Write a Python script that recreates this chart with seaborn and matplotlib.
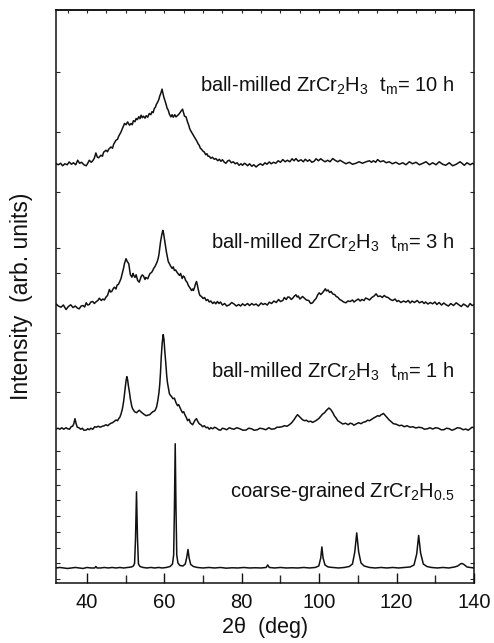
import numpy as np
import pandas as pd
import matplotlib
matplotlib.use("Agg")
import matplotlib.pyplot as plt
import seaborn as sns

# ---------------- data ((2theta, intensity in arb. units)) ----------------
coarse_pts = [(32, 15), (33, 15.5), (34, 15), (35, 14.5), (36, 15), (37, 15.5), (38, 15), (39, 14.5),
              (40, 15.5), (41, 15), (42, 15), (42.3, 16.5), (42.6, 15), (43.5, 15), (44.5, 15.5), (45.5, 15),
              (46.5, 15.5), (47.5, 15), (48.5, 15.5), (49.5, 15), (50.5, 15.5), (51.5, 16), (52.0, 17),
              (52.3, 19.5), (52.55, 45), (52.8, 91), (53.05, 45), (53.3, 19), (53.7, 16.5), (54.5, 15.5),
              (55.5, 15), (56.5, 15.5), (57.5, 15), (58.5, 15.5), (59.5, 15), (60.5, 15.5), (61.5, 16.5),
              (62.1, 19), (62.4, 28), (62.6, 75), (62.8, 139), (63.0, 75), (63.2, 28), (63.5, 20), (64.0, 17.5),
              (64.8, 17), (65.4, 19), (65.8, 26), (66.1, 33.5), (66.4, 25), (66.8, 18.5), (67.5, 16.5),
              (68.5, 15.5), (70, 15), (71.5, 15.5), (73, 15), (74.5, 15.5), (76, 14.8), (77.5, 15.2),
              (79, 15), (80.5, 15.5), (82, 15), (83.5, 15.2), (85, 15), (86.3, 15.5), (86.7, 18), (87.1, 15.5),
              (88.5, 15), (90, 15.5), (91.5, 15), (93, 15.2), (94.5, 15), (96, 15.5), (97.5, 15), (99, 15.5),
              (99.9, 17), (100.4, 25), (100.7, 36), (101.0, 25), (101.5, 18), (102.3, 16), (103.5, 15.5),
              (105, 15), (106.5, 15.5), (107.8, 16.5), (108.6, 19), (109.2, 31), (109.7, 50), (110.2, 31),
              (110.8, 20), (111.6, 17), (113, 15.5), (114.5, 15), (116, 15.5), (117.5, 15), (119, 15.5),
              (120.5, 15), (122, 15.5), (123.5, 16), (124.5, 18), (125.2, 29), (125.7, 47.5), (126.2, 30),
              (126.9, 19), (127.8, 16.5), (129, 15.5), (130.5, 15), (132, 15.5), (133.5, 15), (135, 16),
              (135.8, 17), (136.5, 19), (136.9, 19.5), (137.4, 18.5), (138.2, 16), (139, 15.5), (140, 15)]

h1_pts = [(32, 153.7), (32.5, 154.5), (33.0, 153.5), (33.5, 155), (34.0, 153.5), (34.6, 155), (35.0, 154),
          (35.5, 153.5), (35.9, 156), (36.3, 156.5), (36.6, 159), (36.9, 164), (37.2, 159), (37.5, 155.5),
          (37.9, 155), (38.4, 153.5), (38.8, 154.5), (39.2, 152.5), (39.8, 152.7), (40.2, 154), (40.6, 153),
          (41.0, 154.5), (41.5, 153.5), (42.0, 156), (42.4, 155.5), (42.9, 156.5), (43.4, 155.5), (44.0, 156.5),
          (44.5, 157), (44.9, 158), (45.4, 157), (45.8, 158.5), (46.2, 159.5), (46.6, 160), (47.1, 161.5),
          (47.5, 162.7), (47.9, 162), (48.2, 164), (48.5, 165.5), (48.8, 168.7), (49.1, 173), (49.3, 177),
          (49.5, 182), (49.7, 189), (49.9, 196), (50.1, 202), (50.3, 206), (50.5, 203), (50.7, 197),
          (51.0, 190), (51.2, 184), (51.4, 180), (51.6, 176), (51.8, 174), (52.3, 171), (52.8, 170),
          (53.2, 171.5), (53.5, 172.5), (53.9, 171), (54.2, 170), (54.7, 168.5), (55.3, 167), (55.7, 167.5),
          (56.2, 168), (56.6, 169.5), (57.0, 171), (57.4, 171.5), (57.7, 173), (58.0, 176), (58.3, 182),
          (58.6, 190), (58.8, 198), (59.0, 210), (59.2, 226), (59.45, 240), (59.7, 248), (59.9, 243),
          (60.1, 232), (60.4, 218), (60.6, 207), (60.8, 200), (61.1, 193), (61.3, 189), (61.6, 187),
          (61.8, 186.5), (62.2, 184), (62.6, 184.5), (63.0, 180), (63.4, 177), (63.7, 178), (64.0, 175.5),
          (64.4, 172), (64.7, 170), (65.0, 171), (65.3, 168), (65.7, 165), (66.0, 162), (66.4, 163.5),
          (66.7, 160), (67.0, 159), (67.3, 158), (67.7, 161), (68.0, 163), (68.3, 164), (68.6, 161.5),
          (69.0, 159), (69.4, 158), (69.9, 156), (70.3, 157), (70.8, 155), (71.2, 155.5), (71.6, 153.5),
          (72.0, 155), (72.5, 154), (73.0, 155.5), (73.5, 154.5), (74.0, 153), (74.5, 152.5), (75.0, 154.5),
          (75.5, 154), (76.1, 153), (76.8, 155), (77.4, 154), (78.0, 153.5), (78.7, 155), (79.5, 154),
          (80.3, 152.5), (81.1, 152.7), (81.8, 154.5), (82.5, 154), (83.2, 152.5), (84.0, 153), (84.7, 154.5),
          (85.4, 154), (86.2, 153), (87.0, 155), (87.7, 153.5), (88.5, 154), (89.1, 155.5), (89.7, 155.5),
          (90.4, 156), (91.0, 157), (91.7, 156.5), (92.3, 158), (92.9, 160), (93.5, 163), (94.0, 166),
          (94.4, 168), (94.8, 166.5), (95.2, 165), (95.7, 163), (96.2, 162), (96.7, 162.5), (97.2, 161),
          (97.8, 161.5), (98.3, 160.3), (98.9, 161.5), (99.5, 163), (100.0, 164.5), (100.3, 166),
          (100.9, 168.7), (101.4, 170), (101.8, 172), (102.2, 173.5), (102.5, 174.7), (102.9, 173.5),
          (103.2, 172), (103.6, 169.5), (103.9, 167), (104.4, 164.5), (104.8, 162), (105.4, 160.5),
          (106.1, 158.7), (106.8, 159.5), (107.5, 158), (108.0, 159.5), (108.5, 159), (109.0, 157.5),
          (109.5, 158.7), (110.2, 160), (110.8, 159), (111.4, 160.5), (112.0, 161), (112.5, 162.5),
          (113.0, 162), (113.6, 163.5), (114.2, 165), (114.7, 166), (115.1, 167), (115.6, 166.5),
          (116.0, 168), (116.3, 168.5), (116.6, 169.3), (117.0, 167.5), (117.3, 166), (117.7, 164.5),
          (118.1, 162.7), (118.6, 161), (119.2, 159), (119.9, 158.5), (120.7, 157), (121.3, 157.5),
          (122.0, 156), (122.7, 157), (123.5, 155.5), (124.2, 156), (125.0, 154.7), (125.7, 155.5),
          (126.5, 155), (127.2, 153.5), (128.0, 154), (128.6, 155), (129.3, 153.7), (130.1, 155),
          (130.8, 154.5), (131.5, 153), (132.2, 153), (132.9, 154.5), (133.6, 154), (134.3, 152.5),
          (135.0, 153.5), (135.7, 155), (136.5, 154.5), (137.2, 153), (137.9, 153.7), (138.5, 152.5),
          (139.0, 154), (139.5, 155.5), (140, 155)]

h3_pts = [(32, 278.7), (32.6, 276.5), (33.3, 275.3), (33.9, 277.5), (34.6, 273), (35.2, 276), (35.8, 277.7),
          (36.4, 275), (37.0, 276.5), (37.5, 274.5), (38.0, 273.7), (38.5, 276.5), (39.0, 277), (39.4, 275.5),
          (39.8, 279.7), (40.2, 277.5), (40.6, 278), (41.0, 280.5), (41.5, 281), (41.9, 279), (42.3, 280.5),
          (42.8, 282), (43.2, 284.3), (43.7, 282), (44.1, 283.5), (44.5, 282.5), (44.9, 285.3), (45.3, 287),
          (45.8, 293), (46.1, 290.5), (46.4, 291), (46.8, 294), (47.1, 295.3), (47.5, 293.5), (47.8, 297.5),
          (48.1, 298), (48.4, 300.3), (48.8, 304), (49.2, 310.3), (49.5, 315), (49.7, 319), (50.1, 323.7),
          (50.4, 321), (50.8, 318.7), (51.2, 308), (51.6, 305.3), (51.9, 309), (52.1, 307), (52.4, 305),
          (52.7, 307.7), (53.1, 302), (53.5, 300.3), (53.8, 303.5), (54.0, 306), (54.3, 307.5), (54.6, 306.5),
          (55.0, 303), (55.2, 305), (55.7, 303.7), (56.0, 306.5), (56.3, 309), (56.7, 310), (57.0, 312),
          (57.3, 314.5), (57.6, 316), (58.1, 320.3), (58.4, 324), (58.6, 328), (58.8, 334), (59.0, 340.3),
          (59.3, 347), (59.6, 352), (59.8, 349), (60.0, 344), (60.3, 337), (60.5, 331), (60.8, 325),
          (61.0, 321), (61.3, 318.7), (61.6, 316.5), (62.0, 314), (62.3, 315.5), (62.6, 312), (62.9, 312.5),
          (63.3, 310), (63.6, 308.5), (63.9, 307), (64.2, 309), (64.6, 304), (64.9, 306.5), (65.2, 305.3),
          (65.5, 302), (65.9, 300), (66.2, 297), (66.5, 295.3), (66.8, 293.5), (67.0, 292), (67.3, 293.5),
          (67.5, 292), (67.8, 295), (68.0, 298), (68.3, 301), (68.5, 298), (68.7, 294), (69.0, 289),
          (69.2, 287), (69.6, 286), (70.0, 284), (70.4, 285), (70.8, 282), (71.2, 283), (71.6, 280.5),
          (72.0, 281.5), (72.5, 279), (72.9, 280.5), (73.3, 278.7), (73.7, 281), (74.1, 279), (74.5, 280.5),
          (75.0, 277.5), (75.6, 279), (76.1, 276.5), (76.8, 277.7), (77.4, 280), (78.0, 278.5), (78.6, 276.5),
          (79.2, 278), (79.7, 276.5), (80.2, 278.7), (80.8, 277), (81.5, 279), (82.0, 277), (82.6, 279),
          (83.1, 277.5), (83.7, 278.5), (84.3, 276.5), (85.0, 279.5), (85.5, 278), (86.0, 279), (86.6, 277.5),
          (87.1, 280.3), (87.7, 279), (88.3, 281.5), (88.9, 280), (89.5, 283), (90.0, 281), (90.6, 282),
          (91.0, 285), (91.5, 283), (91.9, 285.5), (92.3, 285.3), (92.8, 283), (93.2, 284.5), (93.6, 286.5),
          (94.0, 287.7), (94.3, 285.5), (94.6, 286.5), (95.0, 283.5), (95.3, 284.5), (95.7, 286),
          (96.2, 284.3), (96.7, 282.5), (97.3, 282), (97.8, 279), (98.3, 279.7), (98.7, 282), (99.2, 284),
          (99.6, 287.5), (100.0, 289.7), (100.4, 288), (100.8, 289.5), (101.2, 291.5), (101.6, 293.7),
          (101.9, 291.5), (102.3, 292.5), (102.7, 290), (103.1, 291), (103.5, 288.5), (104.0, 288),
          (104.4, 286), (104.8, 285.3), (105.3, 283), (105.8, 282), (106.3, 280.5), (106.9, 279.7),
          (107.4, 281.5), (108.0, 281), (108.6, 282.5), (109.0, 280.5), (109.5, 282), (110.1, 283.5),
          (110.6, 281.5), (111.0, 283), (111.6, 282), (112.0, 284.5), (112.5, 283.7), (113.0, 282.5),
          (113.6, 285), (114.2, 286.5), (114.7, 288.7), (115.2, 286), (115.8, 286.5), (116.3, 285),
          (116.8, 287), (117.3, 285.5), (117.8, 285), (118.4, 283), (119.0, 282), (119.6, 283.5),
          (120.1, 281), (120.5, 282), (121.1, 280), (121.8, 281.5), (122.4, 280.3), (123.0, 282),
          (123.5, 279.5), (124.0, 281.5), (124.6, 280), (125.3, 282), (125.9, 279.7), (126.6, 281),
          (127.1, 279), (127.5, 280.5), (128.1, 278.5), (128.7, 280), (129.3, 278.7), (129.9, 280.5),
          (130.4, 278), (131.0, 280), (131.6, 277.5), (132.2, 279.5), (132.8, 277.7), (133.4, 276.5),
          (134.0, 279), (134.7, 277), (135.4, 279.7), (136.0, 278), (136.7, 276), (137.3, 278.5),
          (137.9, 277), (138.4, 275.5), (139.0, 279), (139.5, 277), (140, 277.7)]

h10_pts = [(32, 418.7), (32.6, 417.5), (33.2, 419), (33.7, 416.5), (34.3, 418.5), (34.9, 417.5), (35.4, 420.3),
           (36.0, 418), (36.5, 419.5), (37.1, 417.5), (37.6, 422), (38.1, 419), (38.6, 420), (39.2, 417.5),
           (39.8, 416.5), (40.2, 419), (40.6, 422), (41.1, 420), (41.5, 421.5), (41.9, 424), (42.3, 429.3),
           (42.7, 425), (43.0, 424.5), (43.6, 427), (44.0, 426), (44.3, 430), (44.9, 432), (45.3, 430.5),
           (45.6, 433), (46.2, 435.3), (46.6, 434), (46.9, 438), (47.5, 442), (47.9, 443), (48.2, 446),
           (48.8, 450.3), (49.3, 455), (49.7, 458.7), (50.1, 457.5), (50.5, 460.3), (51.0, 457), (51.4, 458.7),
           (51.7, 457.5), (52.0, 461.5), (52.4, 460.5), (52.7, 463.7), (53.0, 462.5), (53.4, 465.5),
           (53.7, 463.5), (54.0, 467), (54.3, 464.5), (54.6, 466), (55.0, 464), (55.3, 466.5), (55.7, 465),
           (56.1, 468.7), (56.5, 467.5), (56.8, 470.5), (57.1, 469.5), (57.4, 473.7), (57.7, 475),
           (57.9, 477.5), (58.3, 480.3), (58.6, 483), (58.8, 486), (59.1, 489), (59.4, 493), (59.7, 487.5),
           (59.9, 484.5), (60.2, 481), (60.4, 478.5), (60.7, 474), (61.0, 472), (61.3, 468), (61.7, 465.3),
           (62.0, 467.5), (62.3, 465), (62.7, 467.5), (63.0, 465.3), (63.5, 467), (63.9, 468.7), (64.3, 471),
           (64.7, 473), (65.0, 469), (65.2, 466), (65.6, 465.3), (66.0, 460), (66.3, 457), (66.5, 454),
           (66.8, 451.5), (67.1, 449.5), (67.4, 447.5), (67.7, 445.3), (68.1, 443), (68.4, 441), (68.7, 438.5),
           (69.0, 437), (69.3, 434), (69.6, 433), (70.0, 431), (70.3, 430.3), (70.7, 427.5), (71.0, 428.5),
           (71.3, 426), (71.6, 426), (72.0, 424), (72.4, 425), (72.9, 423), (73.3, 423.7), (73.8, 421.5),
           (74.2, 423), (74.6, 421), (75.0, 422.5), (75.5, 420), (75.9, 419), (76.4, 421.5), (76.8, 422),
           (77.3, 419.5), (77.8, 420.5), (78.3, 418.5), (78.8, 419.5), (79.3, 417), (79.8, 418.5), (80.2, 417),
           (80.7, 419), (81.1, 418), (81.5, 416.5), (82.0, 418.5), (82.6, 416), (83.1, 417.5), (83.7, 415.3),
           (84.2, 417), (84.8, 418.5), (85.4, 417), (86.0, 419.5), (86.5, 418), (87.1, 420.3), (87.6, 418.5),
           (88.2, 420), (88.8, 419), (89.4, 421.5), (90.0, 420), (90.6, 422.7), (91.2, 420.5), (91.8, 422),
           (92.4, 420.5), (93.0, 423.5), (93.5, 421.5), (94.0, 423.7), (94.6, 421), (95.3, 422.5),
           (95.9, 420.5), (96.4, 423), (97.0, 421), (97.5, 422.5), (98.1, 420), (98.7, 421), (99.2, 423.5),
           (99.8, 421.5), (100.4, 423.5), (100.9, 422), (101.5, 420.5), (102.2, 422), (102.8, 420.5),
           (103.5, 423.7), (104.1, 422), (104.8, 420.5), (105.4, 422), (106.1, 420.3), (106.9, 418.5),
           (107.8, 420), (108.6, 418), (109.5, 419), (110.3, 420.5), (111.2, 419), (112.1, 420.5),
           (113.0, 421.5), (113.5, 420), (114.0, 421.5), (114.6, 420), (115.1, 422.7), (115.8, 420.5),
           (116.6, 421.5), (117.3, 419.5), (118.1, 420.5), (118.9, 418.5), (119.8, 420), (120.7, 418),
           (121.6, 419.5), (122.4, 417.5), (123.3, 420.5), (124.1, 418.5), (125.0, 420), (125.9, 417.5),
           (126.8, 419), (127.6, 420.5), (128.5, 417.5), (129.3, 419.5), (130.2, 417.5), (131.0, 420.5),
           (131.9, 418), (132.7, 417), (133.6, 419.5), (134.5, 416.5), (135.4, 418), (136.4, 420.5),
           (137.5, 417), (138.2, 419.5), (139.0, 417.5), (139.7, 419), (140, 418)]

trace_names = ["coarse", "1 h", "3 h", "10 h"]
labels = [r"coarse-grained ZrCr$_2$H$_{0.5}$",
          r"ball-milled ZrCr$_2$H$_3$  t$_\mathrm{m}$= 1 h",
          r"ball-milled ZrCr$_2$H$_3$  t$_\mathrm{m}$= 3 h",
          r"ball-milled ZrCr$_2$H$_3$  t$_\mathrm{m}$= 10 h"]
label_x = [135, 135, 135, 135]
label_y = [86, 205, 334, 490]

x_ticks = [40, 60, 80, 100, 120, 140]
x_minor = [50, 70, 90, 110, 130]
top_ticks = [35, 40, 45, 50, 55, 60, 65, 70, 75, 80, 85, 90, 95, 100, 105, 110, 115, 120, 125, 130, 135]
y_ticks = [4, 20, 35, 51, 67, 83, 98, 114, 132, 191, 250, 309, 334, 390, 450, 510]

# ---------------- figure ----------------
sns.set_style("ticks")
plt.rcParams['font.family'] = ['Liberation Sans', 'DejaVu Sans']
plt.rcParams['mathtext.fontset'] = 'custom'
plt.rcParams['mathtext.rm'] = 'Liberation Sans'
plt.rcParams['mathtext.it'] = 'Liberation Sans:italic'

fig = plt.figure(figsize=(4.94, 6.43), dpi=100)
ax = fig.add_axes([56 / 494, 60 / 643, 418 / 494, 573 / 643])

frames = []
for name, pts in zip(trace_names, [coarse_pts, h1_pts, h3_pts, h10_pts]):
    xs, ys = zip(*pts)
    frames.append(pd.DataFrame({"two_theta": xs, "intensity": ys, "trace": name}))
df = pd.concat(frames, ignore_index=True)

sns.lineplot(data=df, x="two_theta", y="intensity", units="trace", estimator=None,
             color="#111111", lw=1.1, sort=True, ax=ax)

for t, lx, ly in zip(labels, label_x, label_y):
    ax.text(lx, ly, t, ha="right", va="baseline", fontsize=14.5, color="#111111")

ax.set_xlim(32, 140)
ax.set_ylim(0, 572)
ax.set_xticks(x_ticks)
ax.set_xticks(x_minor, minor=True)
ax.set_yticks(y_ticks)
ax.set_yticklabels([])
ax.tick_params(axis="x", which="major", direction="in", length=7, width=1, labelsize=14.5, pad=7,
               top=False, colors="#111111")
ax.tick_params(axis="x", which="minor", direction="in", length=6, width=1, top=False)
ax.tick_params(axis="y", which="major", direction="in", length=3, width=0.8, right=True, left=True)
sec = ax.secondary_xaxis("top")
sec.set_xticks(top_ticks)
sec.set_xticklabels([])
sec.tick_params(direction="in", length=2.5, width=0.8)
for s in list(ax.spines.values()) + list(sec.spines.values()):
    s.set_linewidth(1.1)
    s.set_color("#111111")

ax.set_xlabel("2θ  (deg)", fontsize=15.5, labelpad=4, color="#111111")
ax.set_ylabel("Intensity  (arb. units)", fontsize=16.5, labelpad=13, color="#111111")

fig.savefig("out.png", dpi=100)
